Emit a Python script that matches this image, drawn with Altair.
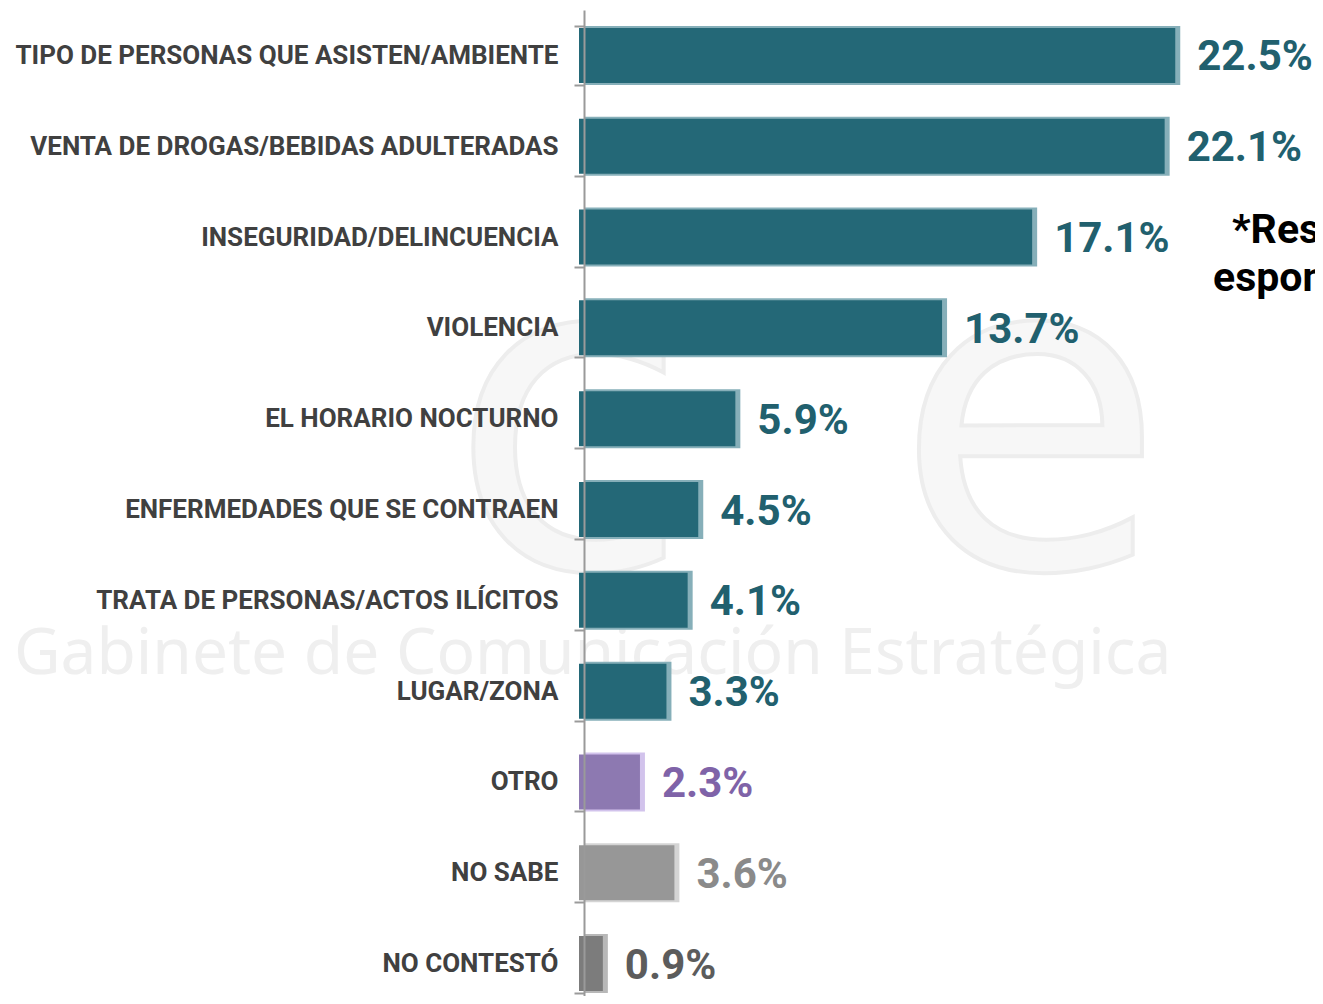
import altair as alt
import pandas as pd

categories = [
    "TIPO DE PERSONAS QUE ASISTEN/AMBIENTE",
    "VENTA DE DROGAS/BEBIDAS ADULTERADAS",
    "INSEGURIDAD/DELINCUENCIA",
    "VIOLENCIA",
    "EL HORARIO NOCTURNO",
    "ENFERMEDADES QUE SE CONTRAEN",
    "TRATA DE PERSONAS/ACTOS ILÍCITOS",
    "LUGAR/ZONA",
    "OTRO",
    "NO SABE",
    "NO CONTESTÓ",
]
values = [22.5, 22.1, 17.1, 13.7, 5.9, 4.5, 4.1, 3.3, 2.3, 3.6, 0.9]
value_labels = ["22.5%", "22.1%", "17.1%", "13.7%", "5.9%", "4.5%", "4.1%", "3.3%", "2.3%", "3.6%", "0.9%"]
fill_colors = ["#246877"] * 8 + ["#8D79B1", "#979797", "#7C7C7C"]
edge_colors = ["#86AFB9"] * 8 + ["#D2C3EC", "#D4D4D4", "#B8B8B8"]
text_colors = ["#21606E"] * 8 + ["#7F63A8", "#8A8A8A", "#5C5C5C"]

note_line1 = "*Respuesta"
note_line2 = "espontánea"
watermark = "Gabinete de  Comunicación  Estratégica"
logo_letters = ["c", "e"]

df = pd.DataFrame({
    "cat": categories,
    "val": values,
    "lab": value_labels,
    "fill": fill_colors,
    "edge": edge_colors,
    "tcol": text_colors,
})

FONT = "Roboto"
PX_PER_UNIT = 26.5
WIDTH = 731
HEIGHT = 986
x_scale = alt.Scale(domain=[0, WIDTH / PX_PER_UNIT], nice=False)

y_enc = alt.Y(
    "cat:N",
    sort=None,
    title=None,
    scale=alt.Scale(paddingInner=0.35, paddingOuter=0.175, range=[0, 999]),
    axis=alt.Axis(
        labelFont=FONT,
        labelFontSize=26,
        labelFontWeight="bold",
        labelColor="#404040",
        labelPadding=16,
        labelLimit=600,
        tickBand="extent",
        tickSize=10,
        tickColor="#9A9A9A",
        tickWidth=2,
        domainColor="#9A9A9A",
        domainWidth=2,
        zindex=1,
    ),
)

base = alt.Chart(df)

logo = alt.Chart(pd.DataFrame({"t": logo_letters, "px": [-14, 446]})).mark_text(
    font="DejaVu Sans", fontSize=440, color="#F7F7F7", stroke="#EDEDED", strokeWidth=4,
    align="center", baseline="alphabetic"
).encode(text="t:N", x=alt.X("px:Q", scale=None), y=alt.value(557))

wm = alt.Chart(pd.DataFrame({"t": [watermark]})).mark_text(
    font="Noto Sans", fontSize=64, color="#EFEFEF", align="left", baseline="middle"
).encode(text="t:N", x=alt.value(-570), y=alt.value(645))

outer = base.mark_bar(size=59).encode(
    y=y_enc,
    x=alt.X("val:Q", scale=x_scale, axis=None),
    color=alt.Color("edge:N", scale=None),
)
inner = base.mark_bar(size=55, xOffset=-5, x2Offset=8).encode(
    y=alt.Y("cat:N", sort=None),
    x=alt.X("val:Q", scale=x_scale),
    color=alt.Color("fill:N", scale=None),
)
labels = base.mark_text(
    font=FONT, fontSize=42, fontWeight="bold", align="left", baseline="middle", dx=17, dy=2
).encode(
    y=alt.Y("cat:N", sort=None),
    x=alt.X("val:Q", scale=x_scale),
    text="lab:N",
    color=alt.Color("tcol:N", scale=None),
)
note1 = alt.Chart(pd.DataFrame({"t": [note_line1]})).mark_text(
    font=FONT, fontSize=41, fontWeight="bold", color="#000000", align="left", baseline="alphabetic"
).encode(text="t:N", x=alt.value(648), y=alt.value(233))
note2 = alt.Chart(pd.DataFrame({"t": [note_line2]})).mark_text(
    font=FONT, fontSize=41, fontWeight="bold", color="#000000", align="left", baseline="alphabetic"
).encode(text="t:N", x=alt.value(629), y=alt.value(281))

chart = alt.layer(logo, wm, outer, inner, labels, note1, note2).properties(
    width=WIDTH,
    height=HEIGHT,
    padding={"left": 576, "top": 2, "right": 0, "bottom": 0},
    autosize=alt.AutoSizeParams(type="none"),
).configure_view(stroke=None)

chart.save("out.html", embed_options={"renderer": "svg", "actions": False})
